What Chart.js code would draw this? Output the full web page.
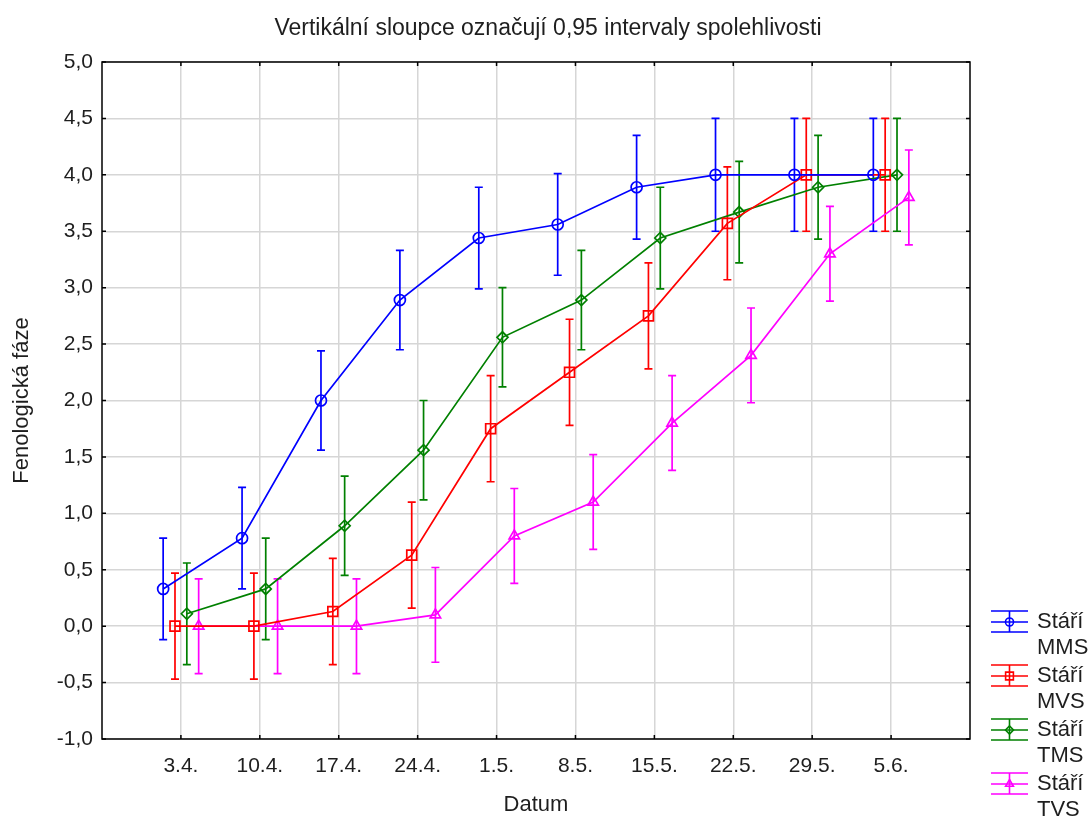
<!DOCTYPE html>
<html>
<head>
<meta charset="utf-8">
<script src="https://cdn.jsdelivr.net/npm/chart.js@4.4.1/dist/chart.umd.min.js"></script>
<style>
  html, body { margin: 0; padding: 0; background: #fff; }
</style>
</head>
<body>
<canvas id="chart" width="1092" height="818"></canvas>
<script>
// dates of observation
const dates = ['3.4.', '10.4.', '17.4.', '24.4.', '1.5.', '8.5.', '15.5.', '22.5.', '29.5.', '5.6.'];

// means and half-widths of the 0.95 confidence intervals
const mmsMean = [0.33, 0.78, 2.0, 2.89, 3.44, 3.56, 3.89, 4.0, 4.0, 4.0];
const mmsCI   = [0.45, 0.45, 0.44, 0.44, 0.45, 0.45, 0.46, 0.5, 0.5, 0.5];
const mvsMean = [0.0, 0.0, 0.13, 0.63, 1.75, 2.25, 2.75, 3.57, 4.0, 4.0];
const mvsCI   = [0.47, 0.47, 0.47, 0.47, 0.47, 0.47, 0.47, 0.5, 0.5, 0.5];
const tmsMean = [0.11, 0.33, 0.89, 1.56, 2.56, 2.89, 3.44, 3.67, 3.89, 4.0];
const tmsCI   = [0.45, 0.45, 0.44, 0.44, 0.44, 0.44, 0.45, 0.45, 0.46, 0.5];
const tvsMean = [0.0, 0.0, 0.0, 0.1, 0.8, 1.1, 1.8, 2.4, 3.3, 3.8];
const tvsCI   = [0.42, 0.42, 0.42, 0.42, 0.42, 0.42, 0.42, 0.42, 0.42, 0.42];

const groupNames = ['MMS', 'MVS', 'TMS', 'TVS'];
const chartTitle = 'Vertikální sloupce označují 0,95 intervaly spolehlivosti';

const FONT = "'Liberation Sans', Arial, sans-serif";
const TEXT = '#1e1e1e';

// style per group, points of each group are shifted sideways a little
const groups = [
  { mean: mmsMean, ci: mmsCI, color: '#0000ff', marker: 'circle', radius: 5.5, shift: -0.225 },
  { mean: mvsMean, ci: mvsCI, color: '#ff0000', marker: 'rect', radius: 7, shift: -0.075 },
  { mean: tmsMean, ci: tmsCI, color: '#008000', marker: 'rectRot', radius: 5.5, shift: 0.075 },
  { mean: tvsMean, ci: tvsCI, color: '#ff00ff', marker: 'triangle', radius: 6, shift: 0.225 }
];

const datasets = groups.map((g, k) => ({
  label: 'Stáří ' + groupNames[k],
  data: g.mean.map((m, i) => ({ x: i + g.shift, y: m, ci: g.ci[i] })),
  borderColor: g.color,
  backgroundColor: g.color,
  borderWidth: 1.7,
  pointStyle: g.marker,
  pointRadius: g.radius,
  pointBorderWidth: 1.7,
  pointBackgroundColor: 'rgba(0,0,0,0)',
  pointBorderColor: g.color,
  tension: 0
}));

// vertical whiskers for the confidence intervals
const errorBars = {
  id: 'errorBars',
  beforeDatasetsDraw(chart) {
    const { ctx, scales: { x, y } } = chart;
    ctx.save();
    ctx.lineWidth = 1.7;
    chart.data.datasets.forEach(ds => {
      ctx.strokeStyle = ds.borderColor;
      ds.data.forEach(p => {
        const px = x.getPixelForValue(p.x);
        const top = y.getPixelForValue(p.y + p.ci);
        const bot = y.getPixelForValue(p.y - p.ci);
        ctx.beginPath();
        ctx.moveTo(px, top); ctx.lineTo(px, bot);
        ctx.moveTo(px - 4, top); ctx.lineTo(px + 4, top);
        ctx.moveTo(px - 4, bot); ctx.lineTo(px + 4, bot);
        ctx.stroke();
      });
    });
    ctx.restore();
  }
};

// black frame round the plot with short inner tick marks, title above
const frame = {
  id: 'frame',
  afterDraw(chart) {
    const { ctx, chartArea: a, scales: { x, y } } = chart;
    ctx.save();
    ctx.strokeStyle = '#000';
    ctx.lineWidth = 1.5;
    ctx.strokeRect(a.left, a.top, a.right - a.left, a.bottom - a.top);
    ctx.beginPath();
    x.ticks.forEach(t => {
      const px = x.getPixelForValue(t.value);
      ctx.moveTo(px, a.top); ctx.lineTo(px, a.top + 4);
      ctx.moveTo(px, a.bottom); ctx.lineTo(px, a.bottom - 4);
    });
    y.ticks.forEach(t => {
      const py = y.getPixelForValue(t.value);
      ctx.moveTo(a.left, py); ctx.lineTo(a.left + 4, py);
      ctx.moveTo(a.right, py); ctx.lineTo(a.right - 4, py);
    });
    ctx.stroke();

    ctx.fillStyle = TEXT;
    ctx.font = '23px ' + FONT;
    ctx.textAlign = 'center';
    ctx.textBaseline = 'middle';
    ctx.fillText(chartTitle, chart.width / 2 + 2, a.top - 33);
    ctx.restore();
  }
};

// legend at the lower right, two text lines per entry
const sideLegend = {
  id: 'sideLegend',
  afterDraw(chart) {
    const { ctx, chartArea: a } = chart;
    const lx = a.right + 21;
    ctx.save();
    chart.data.datasets.forEach((ds, i) => {
      const cy = a.bottom - 117 + i * 54;
      ctx.strokeStyle = ds.borderColor;
      ctx.lineWidth = 1.6;
      ctx.beginPath();
      [-11, 0, 10].forEach(dy => { ctx.moveTo(lx, cy + dy); ctx.lineTo(lx + 37, cy + dy); });
      ctx.moveTo(lx + 18.5, cy - 11); ctx.lineTo(lx + 18.5, cy + 10);
      ctx.stroke();
      ctx.fillStyle = 'rgba(0,0,0,0)';
      Chart.helpers.drawPoint(ctx, { pointStyle: ds.pointStyle, radius: ds.pointRadius - 1.5, borderWidth: 1.5, rotation: 0 }, lx + 18.5, cy);
      ctx.fillStyle = TEXT;
      ctx.font = '22px ' + FONT;
      ctx.textBaseline = 'middle';
      ctx.textAlign = 'left';
      const parts = ds.label.split(' ');
      ctx.fillText(parts[0], lx + 46, cy);
      ctx.fillText(parts[1], lx + 46, cy + 26);
    });
    ctx.restore();
  }
};

new Chart(document.getElementById('chart'), {
  type: 'line',
  data: { datasets },
  plugins: [errorBars, frame, sideLegend],
  options: {
    responsive: false,
    animation: false,
    layout: { padding: { top: 62, right: 122 } },
    plugins: {
      legend: { display: false },
      tooltip: { enabled: false },
      title: { display: false }
    },
    scales: {
      x: {
        type: 'linear',
        min: -1,
        max: 10,
        afterBuildTicks: s => { s.ticks = dates.map((d, i) => ({ value: i })); },
        afterFit: s => { s.height = 79; },
        ticks: {
          callback: v => dates[v],
          color: TEXT,
          font: { family: FONT, size: 21 },
          padding: 15,
          maxRotation: 0,
          autoSkip: false
        },
        grid: { color: '#d6d6d6', lineWidth: 1.5, drawTicks: false },
        border: { display: false },
        title: {
          display: true,
          text: 'Datum',
          color: TEXT,
          font: { family: FONT, size: 22 },
          padding: { top: 0, bottom: 0 }
        }
      },
      y: {
        min: -1,
        max: 5,
        afterFit: s => { s.width = 102; },
        ticks: {
          stepSize: 0.5,
          callback: v => v.toFixed(1).replace('.', ','),
          color: TEXT,
          font: { family: FONT, size: 21 },
          padding: 9
        },
        grid: { color: '#d6d6d6', lineWidth: 1.5, drawTicks: false },
        border: { display: false },
        title: {
          display: true,
          text: 'Fenologická fáze',
          color: TEXT,
          font: { family: FONT, size: 22 },
          padding: { top: 9, bottom: 0 }
        }
      }
    }
  }
});
</script>
</body>
</html>
